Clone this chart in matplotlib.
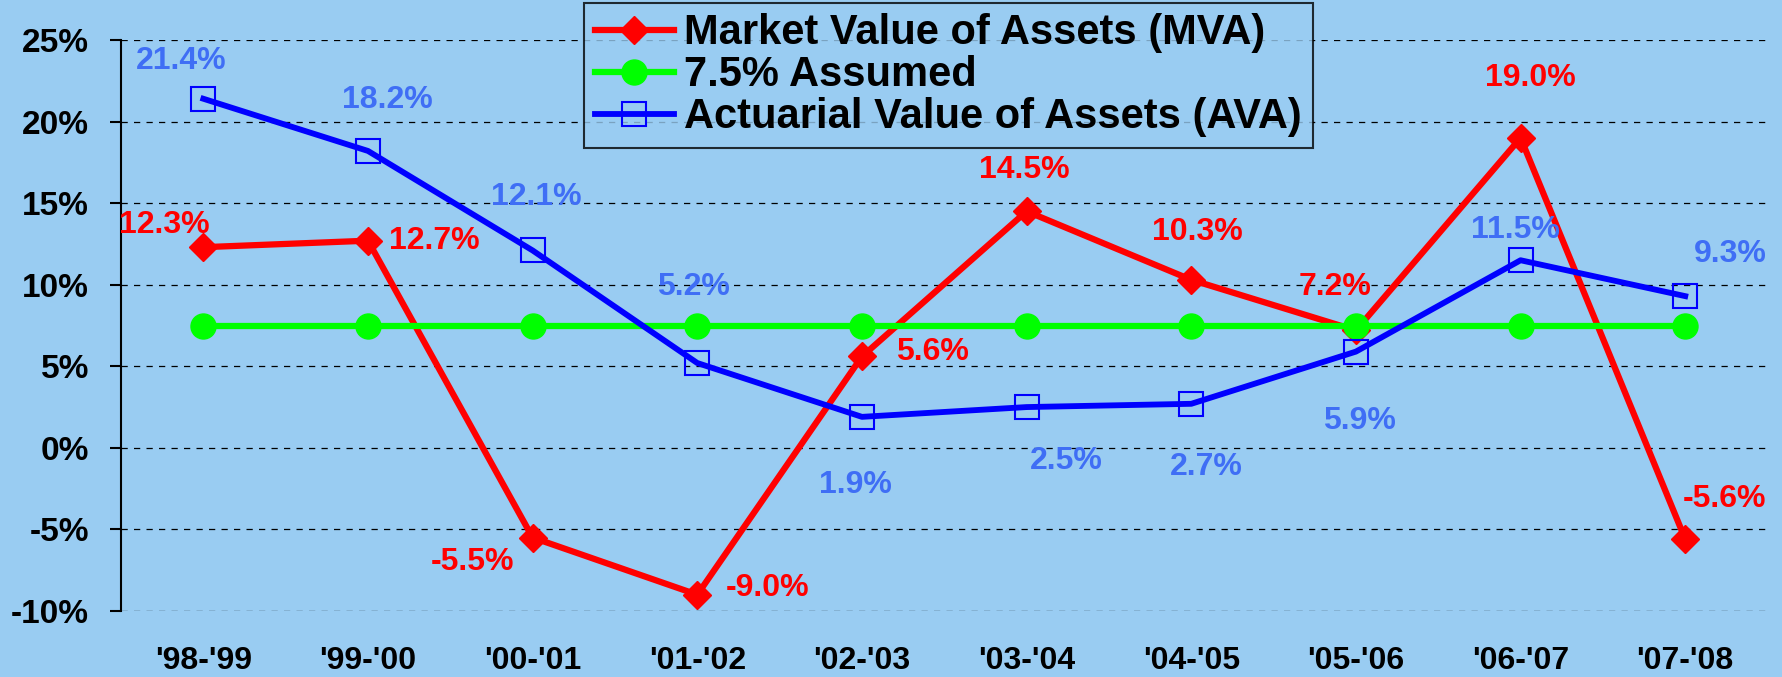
import numpy as np
import matplotlib.pyplot as plt

plt.rcParams['font.family'] = ['Liberation Sans', 'DejaVu Sans']
plt.rcParams['font.weight'] = 'bold'

# fiscal years
years = ["'98-'99", "'99-'00", "'00-'01", "'01-'02", "'02-'03",
         "'03-'04", "'04-'05", "'05-'06", "'06-'07", "'07-'08"]

# returns in percent
mva = [12.3, 12.7, -5.5, -9.0, 5.6, 14.5, 10.3, 7.2, 19.0, -5.6]
assumed = [7.5] * 10
ava = [21.4, 18.2, 12.1, 5.2, 1.9, 2.5, 2.7, 5.9, 11.5, 9.3]

# label offsets (pixels) from each point
mva_off = [(-39, 22), (66, 0), (-60, -24), (70, 7), (70, 4),
           (-2, 41), (6, 48), (-21, 43), (10, 60), (39, 40)]
ava_off = [(-22, 38), (19, 51), (4, 53), (-4, 76), (-7, -68),
           (40, -54), (15, -63), (4, -69), (-5, 30), (45, 42)]

bg = '#99CCF2'
narrow = ['Liberation Sans Narrow', 'Liberation Sans']

fig = plt.figure(figsize=(17.82, 6.77), dpi=100, facecolor=bg)
ax = fig.add_axes([0.0679, 0.0975, 0.924, 0.8434])
ax.set_facecolor(bg)

x = np.arange(len(years))
ax.plot(x, mva, color='#FF0000', lw=4.5, marker='D', ms=14, mec='#FF0000',
        label='Market Value of Assets (MVA)', zorder=3)
ax.plot(x, assumed, color='#00FF00', lw=4.5, marker='o', ms=18,
        label='7.5% Assumed', zorder=4)
ax.plot(x, ava, color='#0000FF', lw=4.2, marker='s', ms=17, mfc='none',
        mec='#0000FF', mew=1.5, label='Actuarial Value of Assets (AVA)', zorder=5)

for i, v in enumerate(mva):
    ax.annotate(f'{v:.1f}%', (i, v), xytext=mva_off[i], textcoords='offset pixels',
                ha='center', va='center', color='#FF0000', fontsize=23,
                fontweight='bold', zorder=6)
for i, v in enumerate(ava):
    ax.annotate(f'{v:.1f}%', (i, v), xytext=ava_off[i], textcoords='offset pixels',
                ha='center', va='center', color='#3F6EF5', fontsize=23,
                fontweight='bold', zorder=6)

ax.set_xlim(-0.5, 9.5)
ax.set_ylim(-10, 25)
ax.set_yticks(np.arange(-10, 26, 5))
ax.set_yticklabels([f'{t}%' for t in range(-10, 26, 5)], fontsize=24, fontweight='bold')
ax.set_xticks(x)
ax.set_xticklabels(years, fontsize=23, fontweight='bold', family=narrow)
ax.tick_params(axis='x', length=0, pad=25)
ax.tick_params(axis='y', length=8, width=1.5, direction='out', pad=15)

ax.yaxis.grid(True, color='black', linestyle=(0, (5, 5)), linewidth=0.9)
ax.set_axisbelow(True)
for s in ['top', 'right', 'bottom']:
    ax.spines[s].set_visible(False)
ax.spines['left'].set_linewidth(1.5)

leg = fig.legend(loc='upper left', bbox_to_anchor=(0.328, 0.996), borderaxespad=0,
                 prop={'family': narrow, 'weight': 'bold', 'size': 30},
                 numpoints=1, frameon=True, fancybox=False, edgecolor='black',
                 facecolor=bg, handlelength=1.9, handletextpad=0.25,
                 labelspacing=0.05, borderpad=0.25)
leg.get_frame().set_linewidth(1.5)

plt.savefig('out.png', dpi=100, facecolor=bg)
